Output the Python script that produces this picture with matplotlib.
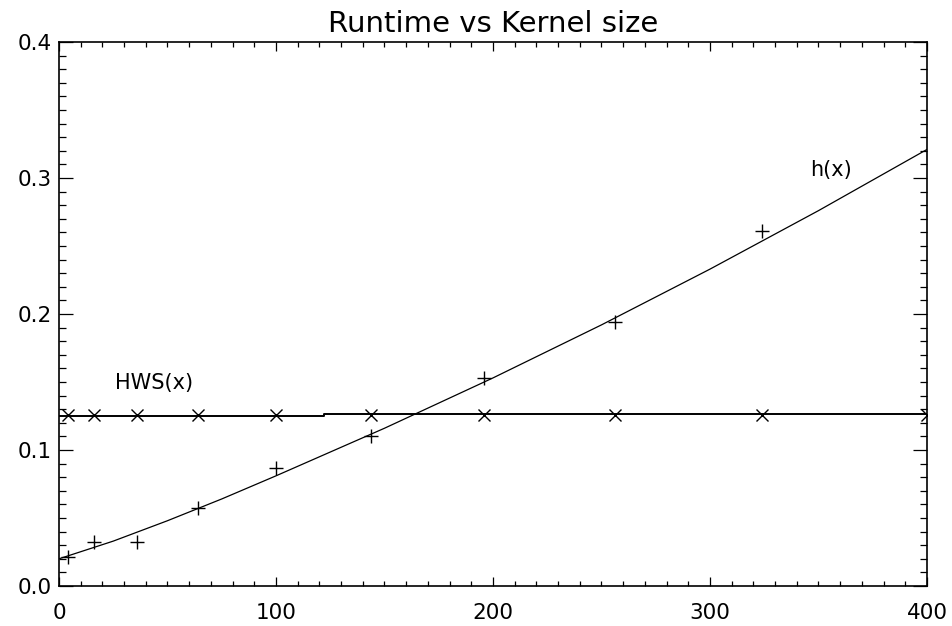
import matplotlib.pyplot as plt
from matplotlib.ticker import MultipleLocator

# kernel sizes (n^2) and measured runtimes
kernel_size = [4, 16, 36, 64, 100, 144, 196, 256, 324]
h_runtime = [0.021, 0.032, 0.032, 0.057, 0.087, 0.110, 0.153, 0.194, 0.261]
hws_size = [4, 16, 36, 64, 100, 144, 196, 256, 324, 400]
hws_runtime = [0.126, 0.126, 0.126, 0.126, 0.126, 0.126, 0.126, 0.126, 0.126, 0.126]

# fitted curves
h_fit_x = [0, 25, 50, 75, 100, 150, 200, 250, 300, 350, 400]
h_fit_y = [0.020, 0.033, 0.048, 0.064, 0.081, 0.116, 0.153, 0.192, 0.233, 0.276, 0.321]
hws_fit_x = [0, 122, 122, 400]
hws_fit_y = [0.1250, 0.1250, 0.1262, 0.1262]

fig = plt.figure(figsize=(9.53, 6.26), dpi=100)
ax = fig.add_axes([0.0619, 0.0639, 0.9108, 0.8690])

ax.plot(h_fit_x, h_fit_y, color='black', lw=0.9)
ax.plot(hws_fit_x, hws_fit_y, color='black', lw=1.4)
ax.plot(kernel_size, h_runtime, ls='none', marker='+', ms=10, mew=1.0, color='black')
ax.plot(hws_size, hws_runtime, ls='none', marker='x', ms=8, mew=1.0, color='black')

ax.text(26, 0.149, 'HWS(x)', fontsize=15, ha='left', va='center')
ax.text(346, 0.306, 'h(x)', fontsize=15, ha='left', va='center')

ax.set_xlim(0, 400)
ax.set_ylim(0, 0.4)
ax.xaxis.set_major_locator(MultipleLocator(100))
ax.xaxis.set_minor_locator(MultipleLocator(10))
ax.yaxis.set_major_locator(MultipleLocator(0.1))
ax.yaxis.set_minor_locator(MultipleLocator(0.01))
ax.yaxis.set_major_formatter(plt.FuncFormatter(lambda v, p: f'{v:.1f}'))

ax.tick_params(axis='both', which='both', direction='in', top=True, right=True, width=0.9)
ax.tick_params(axis='x', which='major', length=6.5, pad=12, labelsize=15.5)
ax.tick_params(axis='x', which='minor', length=3.6)
ax.tick_params(axis='y', which='major', length=10, pad=5, labelsize=15.5)
ax.tick_params(axis='y', which='minor', length=5)
for s in ax.spines.values():
    s.set_linewidth(1.2)

ax.set_title('Runtime vs Kernel size', fontsize=21, pad=7)

fig.savefig('out.png', dpi=100)
